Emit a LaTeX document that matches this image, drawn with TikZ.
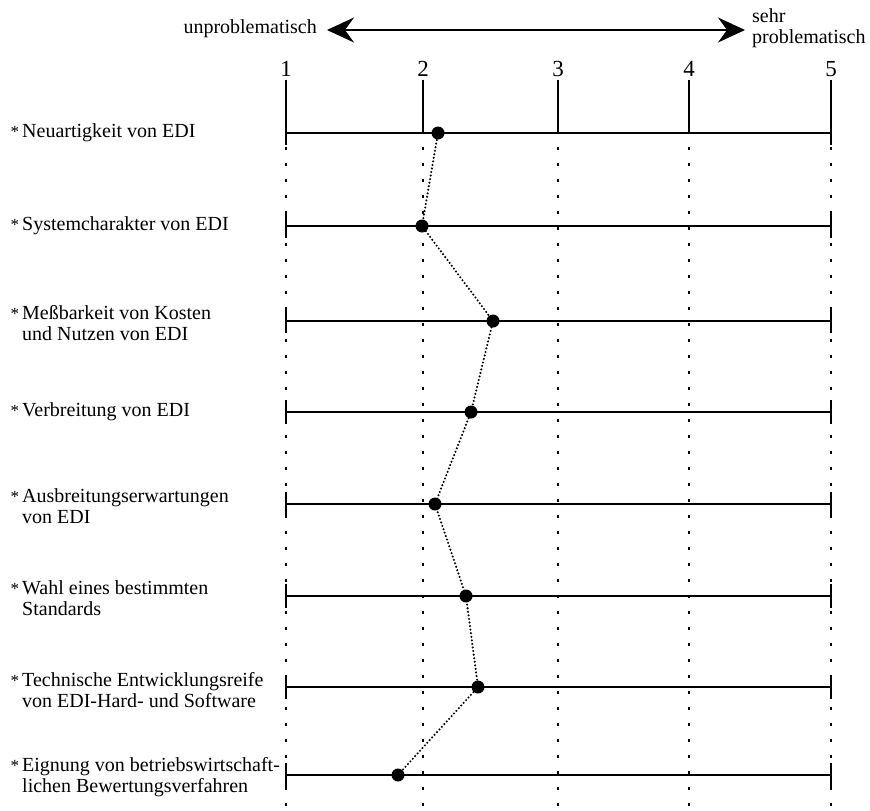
\documentclass[tikz,border=0pt]{standalone}
\usepackage{fontspec}
\setmainfont{Liberation Serif}
\usetikzlibrary{arrows.meta}
% small raised asterisk hanging in front of the first line of a label
\newcommand\hangstar{\llap{{\fontsize{17}{17}\selectfont*}\hspace{3pt}}}
\begin{document}
\begin{tikzpicture}[x=1pt,y=-1pt,
  txt/.style={font=\fontsize{20}{21.5}\selectfont, inner sep=0pt},
  lbl/.style={txt, anchor=west, align=left},
  num/.style={font=\fontsize{23}{23}\selectfont, inner sep=0pt},
  axisline/.style={line width=2.8pt},
  guide/.style={line width=1.6pt, dash pattern=on 2.5pt off 13.5pt},
  trend/.style={line width=2.3pt, line cap=round, dash pattern=on 0pt off 3.6pt},
  dot/.style={circle, fill=black, inner sep=0pt, minimum size=13pt},
  scalearrow/.style={line width=1.7pt,
    {Stealth[length=27pt,width=25pt,inset=9pt]}-{Stealth[length=27pt,width=25pt,inset=9pt]}}]
\useasboundingbox (0,0) rectangle (870,811);

% header: direction of the scale
\node[txt, anchor=east] (unp) at (317,29) {unproblematisch};
\node[txt, anchor=west, align=left] (sehr) at (752,28) {sehr\\problematisch};
\coordinate (aL) at (327,30);
\coordinate (aR) at (745,30);
\draw[scalearrow] (aL) -- (aR);

% scale values and their ticks
\foreach \v/\x in {1/286,2/423,3/558,4/689,5/831}{
  \node[num] (n\v) at (\x,69) {\v};
  \draw[guide] (\x,147) -- (\x,811);
}
\foreach \x in {423,558,689}{
  \draw[axisline] (\x,80) -- (\x,133);
}
\foreach \x in {286,831}{
  \draw[axisline] (\x,80) -- (\x,145);
}

% one scale bar per criterion
\foreach \y in {133,226,321,412,504,596,687,775}{
  \draw[axisline] (286,\y) -- (831,\y);
  \draw[axisline] (286,\y-12) -- (286,\y+12);
  \draw[axisline] (831,\y-12) -- (831,\y+12);
}

% criteria
\node[lbl] (c1) at (22,133) {\hangstar Neuartigkeit von EDI};
\node[lbl] (c2) at (22,226) {\hangstar Systemcharakter von EDI};
\node[lbl] (c3) at (22,323) {\hangstar Meßbarkeit von Kosten\\und Nutzen von EDI};
\node[lbl] (c4) at (22,412) {\hangstar Verbreitung von EDI};
\node[lbl] (c5) at (22,506) {\hangstar Ausbreitungserwartungen\\von EDI};
\node[lbl] (c6) at (22,598) {\hangstar Wahl eines bestimmten\\Standards};
\node[lbl] (c7) at (22,690) {\hangstar Technische Entwicklungsreife\\von EDI-Hard- und Software};
\node[lbl] (c8) at (22,777) {\hangstar Eignung von betriebswirtschaft-\\lichen Bewertungsverfahren};

% mean ratings
\node[dot] (d1) at (438,133) {};
\node[dot] (d2) at (422,226) {};
\node[dot] (d3) at (493,321) {};
\node[dot] (d4) at (471,412) {};
\node[dot] (d5) at (435,504) {};
\node[dot] (d6) at (466,596) {};
\node[dot] (d7) at (478,687) {};
\node[dot] (d8) at (398,775) {};
\draw[trend] (d1.center) -- (d2.center) -- (d3.center) -- (d4.center)
  -- (d5.center) -- (d6.center) -- (d7.center) -- (d8.center);
\end{tikzpicture}
\end{document}
